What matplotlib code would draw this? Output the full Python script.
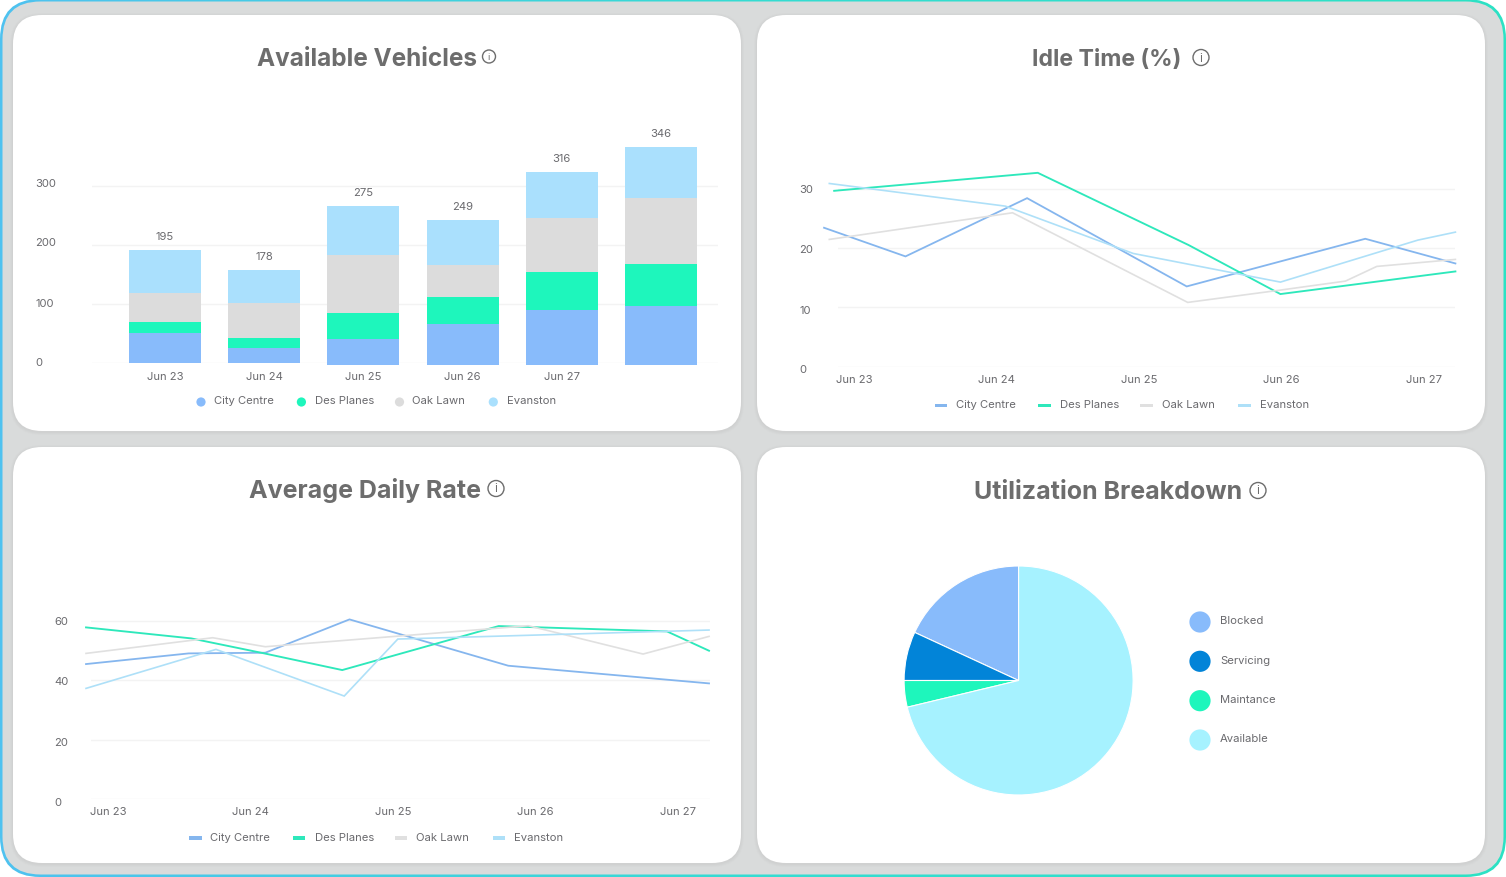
#!/usr/bin/env python3
"""Fleet dashboard: four cards with bars, idle time, daily rate and a pie."""

from __future__ import annotations

import matplotlib
import numpy as np

matplotlib.use("Agg")
import matplotlib.pyplot as plt
from matplotlib.colors import LinearSegmentedColormap
from matplotlib.patches import Circle, FancyBboxPatch, Rectangle
from matplotlib.transforms import Affine2D

WIDTH, HEIGHT = 1506, 878
NUDGE = 1  # rendered rows land one pixel high otherwise

# shared
SERIES = ["City Centre", "Des Planes", "Oak Lawn", "Evanston"]
DAYS = ["Jun 23", "Jun 24", "Jun 25", "Jun 26", "Jun 27"]

# available vehicles (stacked bars)
BAR_TOTALS = [195, 178, 275, 249, 316, 346]
BAR_BASE = [0, 0, -3.4, -3.4, -3.4, -3.4]
BAR_CITY = [51.9, 26.0, 45.1, 69.9, 94.2, 100.4]
BAR_DES = [18.6, 16.4, 43.4, 45.1, 63.2, 71.1]
BAR_OAK = [49.0, 60.3, 98.1, 55.3, 91.4, 111.7]
BAR_EVAN = [72.2, 54.7, 83.5, 76.1, 77.8, 86.3]

# idle time, x is in days after Jun 23
IDLE_CITY_X = [-0.21, 0.362, 1.216, 2.337, 3.591, 4.224]
IDLE_CITY_Y = [23.47, 18.63, 28.47, 13.56, 21.61, 17.44]
IDLE_DES_X = [-0.139, 1.291, 2.351, 2.995, 4.224]
IDLE_DES_Y = [29.71, 32.75, 20.54, 12.27, 16.09]
IDLE_OAK_X = [-0.173, 1.114, 2.344, 2.995, 3.452, 3.672, 4.224]
IDLE_OAK_Y = [21.5, 26.0, 10.86, 12.94, 14.46, 16.94, 18.12]
IDLE_EVAN_X = [-0.173, 1.064, 1.961, 2.995, 3.96, 4.224]
IDLE_EVAN_Y = [30.95, 27.12, 19.13, 14.29, 21.38, 22.73]

# average daily rate, x is in days after Jun 23
RATE_CITY_X = [-0.154, 0.567, 1.104, 1.695, 2.809, 4.218]
RATE_CITY_Y = [45.56, 49.17, 49.4, 60.67, 45.0, 39.02]
RATE_DES_X = [-0.154, 0.584, 1.097, 1.644, 2.742, 3.923, 4.218]
RATE_DES_Y = [57.97, 54.25, 49.17, 43.53, 58.42, 56.61, 50.07]
RATE_OAK_X = [-0.154, 0.735, 1.104, 2.95, 3.755, 4.218]
RATE_OAK_Y = [49.17, 54.47, 51.43, 58.53, 48.95, 54.92]
RATE_EVAN_X = [-0.154, 0.758, 1.658, 2.034, 4.218]
RATE_EVAN_Y = [37.33, 50.52, 34.74, 54.02, 57.07]

# utilization breakdown
PIE_LABELS = ["Blocked", "Servicing", "Maintance", "Available"]
PIE_VALUES = [18.1, 6.9, 3.75, 71.25]

BAR_COLORS = ["#88bbfb", "#1ef6bc", "#dcdcdc", "#aae0fd"]
LINE_COLORS = ["#85b6ee", "#2ee8bb", "#e0e0e0", "#aee0f8"]
PIE_COLORS = ["#88bbfb", "#0284d8", "#1ef6bc", "#a6f2ff"]
TEXT = "#6a6a6e"
TITLE = "#6d6d6d"
GRID = "#f3f3f3"
FONT = "Inter"


def rounded(ax, x0, y0, x1, y1, radius, **kwargs):
    patch = FancyBboxPatch(
        (x0, y0), x1 - x0, y1 - y0,
        boxstyle=f"round,pad=0,rounding_size={radius}", linewidth=0, **kwargs,
    )
    ax.add_patch(patch)
    return patch


def draw_background(bg) -> None:
    cmap = LinearSegmentedColormap.from_list("edge", ["#4fc2f0", "#35dcd2", "#2ce2c4"])
    gradient = bg.imshow(
        np.linspace(0, 1, 256)[None, :], cmap=cmap, aspect="auto",
        extent=(0, WIDTH, HEIGHT, 0), zorder=0,
    )
    gradient.set_clip_path(rounded(bg, 0, -1, WIDTH, HEIGHT - 1, 40, facecolor="none"))
    rounded(bg, 2.5, 1.5, WIDTH - 2.5, HEIGHT - 3.5, 38, facecolor="#d9dbdb", zorder=1)

    cards = [(13, 15), (757, 15), (13, 447), (757, 447)]
    for x0, y0 in cards:
        for grow, alpha in ((3, 0.12), (2, 0.18), (1, 0.25)):
            rounded(bg, x0 - grow, y0 - grow + 1, x0 + 728 + grow, y0 + 416 + grow + 1,
                    29 + grow, facecolor="#c8c8c8", alpha=alpha, zorder=2)
        rounded(bg, x0, y0, x0 + 728, y0 + 416, 29, facecolor="white", zorder=3)


def draw_title(bg, text, size, cx, cy, icon_x, icon_r) -> None:
    bg.text(cx, cy + 1, text, fontsize=size, fontweight="bold", color=TITLE, family=FONT,
            ha="center", va="center", zorder=5)
    bg.add_patch(Circle((icon_x, cy - 0.5), icon_r, facecolor="none", edgecolor=TITLE,
                        linewidth=1.0, zorder=5))
    bg.text(icon_x, cy - 0.5, "i", fontsize=icon_r * 1.05, color=TITLE, family=FONT,
            ha="center", va="center", zorder=5)


def chart_axes(fig, left, right, top, bottom):
    ax = fig.add_axes([left / WIDTH, 1 - (bottom + NUDGE) / HEIGHT,
                       (right - left) / WIDTH, (bottom - top) / HEIGHT])
    ax.patch.set_alpha(0)
    for spine in ax.spines.values():
        spine.set_visible(False)
    ax.tick_params(length=0, labelsize=8.1, labelcolor=TEXT, pad=5)
    ax.grid(axis="y", color=GRID, linewidth=1.0)
    ax.set_axisbelow(True)
    return ax


def place_y_labels(ax, dx, shifts) -> None:
    """Left-align y labels at dx pixels from the axes, each nudged by its own shift."""
    for label, shift in zip(ax.get_yticklabels(), shifts):
        label.set_ha("left")
        label.set_transform(label.get_transform() + Affine2D().translate(dx, -shift + NUDGE))


def line_legend(bg, swatches, texts, y_text, y_swatch) -> None:
    for name, color, x0, x1 in zip(SERIES, LINE_COLORS, swatches, texts):
        bg.add_patch(Rectangle((x0, y_swatch - 1.7), 12.5, 3.4, facecolor=color,
                               linewidth=0, zorder=5))
        bg.text(x1, y_text, name, fontsize=8.1, color=TEXT, family=FONT,
                ha="left", va="center", zorder=5)


def draw_bars(fig, bg) -> None:
    ax = chart_axes(fig, 92, 718, 100, 363.3)
    xs = np.arange(len(BAR_TOTALS))
    bottom = np.array(BAR_BASE, dtype=float)
    for values, color in zip((BAR_CITY, BAR_DES, BAR_OAK, BAR_EVAN), BAR_COLORS):
        ax.bar(xs, values, 0.726, bottom=bottom, color=color, clip_on=False, zorder=3)
        bottom += np.array(values)
    for x, top, total in zip(xs, bottom, BAR_TOTALS):
        ax.annotate(str(total), (x, top), xytext=(0, 10), textcoords="offset points",
                    ha="center", va="center", fontsize=8.1, color=TEXT)
    ax.set_xlim(-0.736, 5.575)
    ax.set_ylim(0, 445.5)
    ax.set_xticks(xs, DAYS + [""])
    ax.tick_params(axis="x", pad=5.7)
    ax.set_yticks([0, 100, 200, 300])
    place_y_labels(ax, -50, [-1.6, -1.4, -2.6, -3.0])

    for x0, x1, name, color in zip([201, 301.4, 399.5, 493.3], [214.4, 314.8, 412.4, 506.7],
                                   SERIES, BAR_COLORS):
        bg.add_patch(Circle((x0, 402), 4.6, facecolor=color, linewidth=0, zorder=5))
        bg.text(x1, 400.5, name, fontsize=8.1, color=TEXT, family=FONT,
                ha="left", va="center", zorder=5)


def draw_lines(ax, xs_list, ys_list) -> None:
    for xs, ys, color, lw in zip(xs_list, ys_list, LINE_COLORS, (1.3, 1.35, 1.2, 1.2)):
        ax.plot(xs, ys, color=color, linewidth=lw, clip_on=False, zorder=3,
                solid_joinstyle="miter")
    ax.set_xticks(range(len(DAYS)), DAYS)


def draw_idle(fig, bg) -> None:
    ax = chart_axes(fig, 838, 1455.4, 100, 366.7)
    draw_lines(ax, (IDLE_CITY_X, IDLE_DES_X, IDLE_OAK_X, IDLE_EVAN_X),
               (IDLE_CITY_Y, IDLE_DES_Y, IDLE_OAK_Y, IDLE_EVAN_Y))
    ax.set_xlim(-0.112, 4.224)
    ax.set_ylim(0, 45.05)
    ax.set_yticks([0, 10, 20, 30])
    place_y_labels(ax, -31.5, [2.7, 2.3, 0.7, -0.3])
    line_legend(bg, [935, 1038.5, 1140.5, 1238.5], [956.4, 1060, 1161.8, 1259.6], 404.3, 405.7)


def draw_rate(fig, bg) -> None:
    ax = chart_axes(fig, 91, 709.6, 532, 798.7)
    draw_lines(ax, (RATE_CITY_X, RATE_DES_X, RATE_OAK_X, RATE_EVAN_X),
               (RATE_CITY_Y, RATE_DES_Y, RATE_OAK_Y, RATE_EVAN_Y))
    ax.set_xlim(-0.119, 4.222)
    ax.set_ylim(0, 90.25)
    ax.set_yticks([0, 20, 40, 60])
    place_y_labels(ax, -29.5, [3.3, 2.3, 0.7, -0.3])
    line_legend(bg, [189.5, 293, 395, 493], [210.5, 314.8, 416.3, 514.4], 836.7, 838)


def draw_pie(fig, bg) -> None:
    cx, cy, radius = 1018.6, 680.5, 114.5
    ax = fig.add_axes([(cx - radius) / WIDTH, 1 - (cy + radius + NUDGE) / HEIGHT,
                       2 * radius / WIDTH, 2 * radius / HEIGHT])
    ax.pie(PIE_VALUES, colors=PIE_COLORS, startangle=90, counterclock=True, radius=1,
           wedgeprops={"edgecolor": "white", "linewidth": 0.8})
    ax.set_xlim(-1, 1)
    ax.set_ylim(-1, 1)

    for name, color, y_mark, y_text in zip(PIE_LABELS, PIE_COLORS,
                                           [622, 661.3, 700.7, 740],
                                           [620.3, 659.7, 699, 738.3]):
        bg.add_patch(Circle((1200, y_mark), 10.6, facecolor=color, linewidth=0, zorder=5))
        bg.text(1220, y_text, name, fontsize=8.1, color=TEXT, family=FONT,
                ha="left", va="center", zorder=5)


def main() -> None:
    plt.rcParams["font.family"] = [FONT, "DejaVu Sans"]
    fig = plt.figure(figsize=(WIDTH / 100, HEIGHT / 100), dpi=100, facecolor="white")
    bg = fig.add_axes([0, 0, 1, 1], zorder=-1)
    bg.set_axis_off()

    draw_background(bg)
    draw_title(bg, "Available Vehicles", 17.5, 367, 57, 489, 6.5)
    draw_title(bg, "Idle Time (%)", 16.6, 1106.5, 58, 1201, 8)
    draw_title(bg, "Average Daily Rate", 18, 365, 489, 496, 8)
    draw_title(bg, "Utilization Breakdown", 18, 1108, 491, 1258, 8)

    draw_bars(fig, bg)
    draw_idle(fig, bg)
    draw_rate(fig, bg)
    draw_pie(fig, bg)

    bg.set_xlim(0, WIDTH)
    bg.set_ylim(HEIGHT - NUDGE, -NUDGE)
    fig.savefig("out.png", dpi=100)


if __name__ == "__main__":
    main()
